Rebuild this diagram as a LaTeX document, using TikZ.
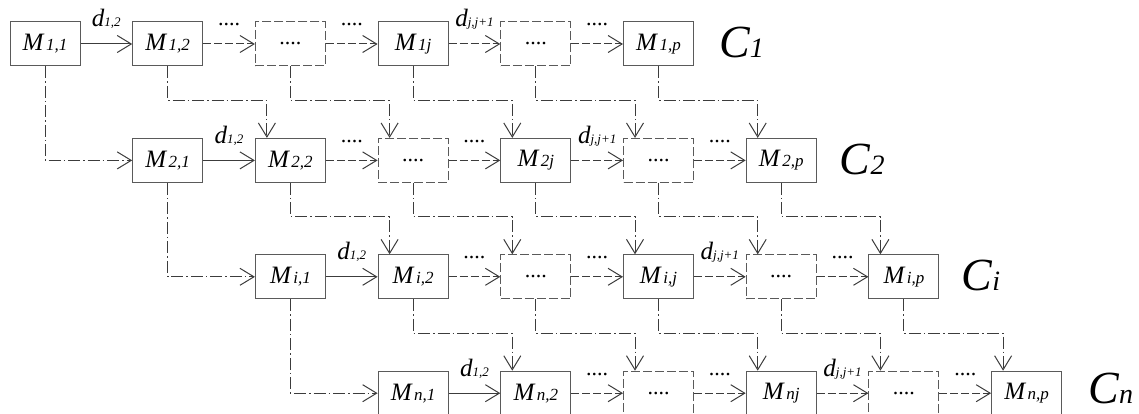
\documentclass[tikz,border=0pt]{standalone}
\usepackage{fontspec}
\setmainfont{Liberation Serif}
\usetikzlibrary{arrows.meta}
\definecolor{bx}{RGB}{90,90,90}
\definecolor{ln}{RGB}{60,60,60}
\newcommand\Mlab[1]{M\kern2.5pt{\fontsize{17}{17}\selectfont #1}}
\newcommand\Dlab[1]{{\fontsize{25}{25}\selectfont d}{\fontsize{13}{13}\selectfont #1}}
\newcommand\Clab[1]{{\fontsize{46}{46}\selectfont C}{\fontsize{28}{28}\selectfont #1}}
\begin{document}
\begin{tikzpicture}[x=1pt,y=-1pt,
  box/.style={draw=bx, line width=1pt, minimum width=70pt, minimum height=44pt,
    inner sep=0pt, font=\fontsize{25}{25}\selectfont\itshape},
  dbox/.style={box, dash pattern=on 9pt off 3pt},
  conn/.style={draw=ln, line width=1pt, -{Straight Barb[length=14pt,width=17pt]}},
  solidarr/.style={conn},
  dasharr/.style={conn, dash pattern=on 8pt off 3pt},
  dotarr/.style={conn, dash pattern=on 12pt off 3pt on 1.5pt off 3pt},
  lab/.style={anchor=base, inner sep=0pt, font=\itshape},
  dots/.style={anchor=base, inner sep=0pt, font=\fontsize{22}{22}\selectfont},
  clab/.style={anchor=base west, inner sep=0pt, font=\itshape}]
\useasboundingbox (0,0) rectangle (1139,414);
% boxes
\foreach \r/\k/\s in {1/1/{1,1},1/2/{1,2},1/4/{1j},1/6/{1,p},
                      2/1/{2,1},2/2/{2,2},2/4/{2j},2/6/{2,p},
                      3/1/{i,1},3/2/{i,2},3/4/{i,j},3/6/{i,p},
                      4/1/{n,1},4/2/{n,2},4/4/{nj},4/6/{n,p}}{
  \pgfmathsetmacro\cx{45+122.7*(\r+\k-2)}
  \pgfmathsetmacro\cy{44+116.4*(\r-1)}
  \node[box] (r\r c\k) at (\cx,\cy) {\Mlab{\s}};
}
\foreach \r in {1,2,3,4}{
  \foreach \k in {3,5}{
    \pgfmathsetmacro\cx{45+122.7*(\r+\k-2)}
    \pgfmathsetmacro\cy{44+116.4*(\r-1)}
    \node[dbox] (r\r c\k) at (\cx,\cy) {\fontsize{22}{22}\selectfont\upshape....};
  }
}
% horizontal arrows and labels
\foreach \r in {1,2,3,4}{
  \draw[solidarr] (r\r c1.east) -- (r\r c2.west);
  \foreach \k in {2,...,5}{
    \pgfmathtruncatemacro\kn{\k+1}
    \draw[dasharr] (r\r c\k.east) -- (r\r c\kn.west);
  }
  \path (r\r c1.east) -- (r\r c2.west) node[lab, pos=0.5, yshift=17pt] (d\r a) {\Dlab{1,2}};
  \path (r\r c4.east) -- (r\r c5.west) node[lab, pos=0.5, yshift=17pt] (d\r b) {\Dlab{j,j+1}};
  \path (r\r c2.east) -- (r\r c3.west) node[dots, pos=0.5, yshift=18pt] (e\r a) {....};
  \path (r\r c3.east) -- (r\r c4.west) node[dots, pos=0.5, yshift=18pt] (e\r b) {....};
  \path (r\r c5.east) -- (r\r c6.west) node[dots, pos=0.5, yshift=18pt] (e\r c) {....};
}
% vertical connectors
\foreach \r in {1,2,3}{
  \pgfmathtruncatemacro\rn{\r+1}
  \draw[dotarr] (r\r c1.south) |- (r\rn c1.west);
  \foreach \k in {2,...,6}{
    \draw[dotarr] (r\r c\k.south) -- ++(0,34) -| ([xshift=12pt]r\rn c\k.north west);
  }
}
% row labels
\node[clab] (C1) at ([xshift=25pt,yshift=-14pt]r1c6.east) {\Clab{1}};
\node[clab] (C2) at ([xshift=23pt,yshift=-14pt]r2c6.east) {\Clab{2}};
\node[clab] (C3) at ([xshift=22pt,yshift=-14pt]r3c6.east) {\Clab{i}};
\node[clab] (C4) at ([xshift=26pt,yshift=-10pt]r4c6.east) {\Clab{n}};
\end{tikzpicture}
\end{document}
